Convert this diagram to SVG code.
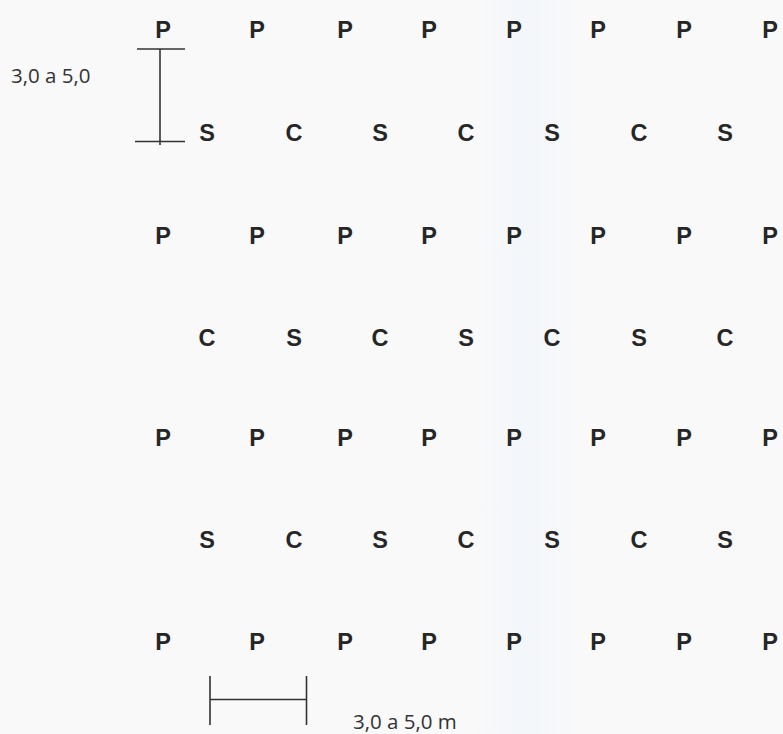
<svg xmlns="http://www.w3.org/2000/svg" width="783" height="734" viewBox="0 0 783 734">
<defs>
<style>
.l{font-family:"Liberation Sans",Arial,sans-serif;font-weight:bold;font-size:23.5px;fill:#262626;text-anchor:middle}
.d{font-family:"Open Sans","Liberation Sans",sans-serif;font-size:20.5px;fill:#333}
.ln{stroke:#333;stroke-width:1.6;fill:none}
</style>
<linearGradient id="band" x1="0" y1="0" x2="1" y2="0">
<stop offset="0" stop-color="#f9f9fa"/>
<stop offset="0.5" stop-color="#f3f6fa"/>
<stop offset="1" stop-color="#f9f9fa"/>
</linearGradient>
</defs>
<rect width="783" height="734" fill="#f9f9fa"/>
<rect x="470" y="0" width="110" height="734" fill="url(#band)"/>
<g id="row1">
<text class="l" x="163" y="38">P</text><text class="l" x="257" y="38">P</text><text class="l" x="345" y="38">P</text><text class="l" x="429" y="38">P</text><text class="l" x="514" y="38">P</text><text class="l" x="598" y="38">P</text><text class="l" x="684" y="38">P</text><text class="l" x="770" y="38">P</text>
</g>
<g id="row2">
<text class="l" x="207" y="141">S</text><text class="l" x="294" y="141">C</text><text class="l" x="380" y="141">S</text><text class="l" x="466" y="141">C</text><text class="l" x="552" y="141">S</text><text class="l" x="639" y="141">C</text><text class="l" x="725" y="141">S</text>
</g>
<g id="row3">
<text class="l" x="163" y="244">P</text><text class="l" x="257" y="244">P</text><text class="l" x="345" y="244">P</text><text class="l" x="429" y="244">P</text><text class="l" x="514" y="244">P</text><text class="l" x="598" y="244">P</text><text class="l" x="684" y="244">P</text><text class="l" x="770" y="244">P</text>
</g>
<g id="row4">
<text class="l" x="207" y="346">C</text><text class="l" x="294" y="346">S</text><text class="l" x="380" y="346">C</text><text class="l" x="466" y="346">S</text><text class="l" x="552" y="346">C</text><text class="l" x="639" y="346">S</text><text class="l" x="725" y="346">C</text>
</g>
<g id="row5">
<text class="l" x="163" y="446">P</text><text class="l" x="257" y="446">P</text><text class="l" x="345" y="446">P</text><text class="l" x="429" y="446">P</text><text class="l" x="514" y="446">P</text><text class="l" x="598" y="446">P</text><text class="l" x="684" y="446">P</text><text class="l" x="770" y="446">P</text>
</g>
<g id="row6">
<text class="l" x="207" y="548">S</text><text class="l" x="294" y="548">C</text><text class="l" x="380" y="548">S</text><text class="l" x="466" y="548">C</text><text class="l" x="552" y="548">S</text><text class="l" x="639" y="548">C</text><text class="l" x="725" y="548">S</text>
</g>
<g id="row7">
<text class="l" x="163" y="650">P</text><text class="l" x="257" y="650">P</text><text class="l" x="345" y="650">P</text><text class="l" x="429" y="650">P</text><text class="l" x="514" y="650">P</text><text class="l" x="598" y="650">P</text><text class="l" x="684" y="650">P</text><text class="l" x="770" y="650">P</text>
</g>
<g id="dimensions">
<line class="ln" x1="160" y1="49" x2="160" y2="145"/>
<line class="ln" x1="137" y1="49" x2="185" y2="49"/>
<line class="ln" x1="135" y1="141.5" x2="185" y2="141.5"/>
<line class="ln" x1="210" y1="699.5" x2="306.5" y2="699.5"/>
<line class="ln" x1="210" y1="676" x2="210" y2="725"/>
<line class="ln" x1="306.5" y1="676" x2="306.5" y2="725"/>
</g>
<g id="labels">
<text class="d" x="11" y="83">3,0 a 5,0</text>
<text class="d" x="353" y="729">3,0 a 5,0 m</text>
</g>
</svg>
